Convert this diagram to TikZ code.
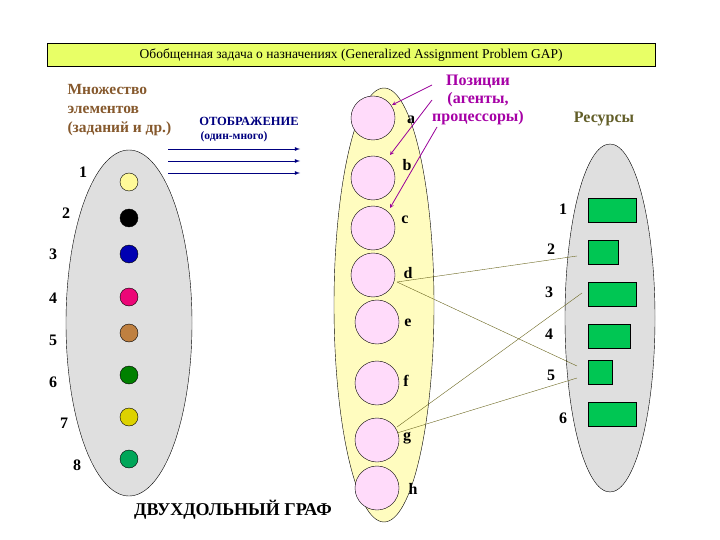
\documentclass[tikz,border=0pt]{standalone}
\usepackage{fontspec}
\setmainfont{Liberation Serif}
\begin{document}
\begin{tikzpicture}[x=1pt,y=-1pt,
  lbl/.style={font=\fontsize{16}{16}\selectfont\bfseries},
  dot/.style={circle,draw,minimum size=18pt,inner sep=0pt},
  posn/.style={circle,draw,fill=pink!40!magenta!20,minimum size=44pt,inner sep=0pt},
  res/.style={draw,fill=teal!50!green!90!cyan,anchor=north west,inner sep=0pt},
  edge/.style={draw=olive!70!black,thin},
  parr/.style={draw=violet!80!magenta,thick,-stealth},
  barr/.style={draw=blue!50!black,thick,-latex}]
\useasboundingbox (0,0) rectangle (720,540);
\fill[white] (0,0) rectangle (720,540);
\node[draw,fill=lime!60!yellow!60,minimum width=608pt,minimum height=23pt,anchor=north west,inner sep=0pt,font=\fontsize{13.5}{13.5}\selectfont] (title) at (47,43) {Обобщенная задача о назначениях (Generalized Assignment Problem GAP)};
% ellipses
\draw[fill=gray!25] (129,323) ellipse (63 and 173);
\draw[fill=yellow!25] (384,305) ellipse (50 and 217);
\draw[fill=gray!25] (610,318) ellipse (45 and 174);
% left dots
\foreach \n/\y/\c/\lx/\ly in {1/182/yellow!40/83/172,2/218/black/66/213,3/254/blue!70!black/53/254,4/297/magenta!80!red/53/298,5/333/brown/53/340,6/375/green!50!black/53/382,7/417/yellow!70!olive/64/423,8/459/teal!70!green/77/465}{
  \node[dot,fill=\c] (t\n) at (129,\y) {};
  \node[lbl] (tl\n) at (\lx,\ly) {\n};
}
% positions
\foreach \n/\y/\x/\lx/\ly in {a/118/373/411/120,b/178/373/407/165,c/228/373/405/220,d/275/373/408/273,e/322/377/408/323,f/383/377/406/381,g/440/377/407/438,h/488/377/413/489}{
  \node[posn] (p\n) at (\x,\y) {};
  \node[lbl] (pl\n) at (\lx,\ly) {\n};
}
% resources
\foreach \n/\y/\w/\ly/\lx in {1/198/48/209/563,2/240/30/249/551,3/282/48/292/549,4/324/42/334/549,5/360/24/375/551,6/402/48/418/563}{
  \node[res,minimum width=\w pt,minimum height=24pt] (r\n) at (588,\y) {};
  \node[lbl] (rl\n) at (\lx,\ly) {\n};
}
% connection points
\coordinate (d1) at (397,282); \coordinate (g1) at (397,427); \coordinate (g2) at (397,433);
\coordinate (q2) at (577,256); \coordinate (q5) at (577,366); \coordinate (q3) at (582,293); \coordinate (q5b) at (577,378);
\draw[edge] (d1) -- (q2); \draw[edge] (d1) -- (q5); \draw[edge] (g1) -- (q3); \draw[edge] (g2) -- (q5b);
% texts
\node[font=\fontsize{16}{18}\selectfont\bfseries,text=violet!70!magenta,align=center] (pt) at (478,100) {Позиции\\(агенты,\\процессоры)};
\node[lbl,text=olive!60!black] (rt) at (604,119) {Ресурсы};
\node[font=\fontsize{15.5}{19}\selectfont\bfseries,text=brown!70!black,align=left,anchor=west] (mt) at (64,110) {Множество\\элементов\\(заданий и др.)};
\node[font=\fontsize{12.5}{12.5}\selectfont\bfseries,text=blue!50!black] (ot) at (249,121) {ОТОБРАЖЕНИЕ};
\node[font=\fontsize{11.5}{11.5}\selectfont\bfseries,text=blue!50!black] (om) at (234,137) {(один-много)};
\node[font=\fontsize{18}{18}\selectfont\bfseries] (gt) at (233,510) {ДВУХДОЛЬНЫЙ ГРАФ};
% arrows
\foreach \y in {149,161,173}{
  \coordinate (as\y) at (168,\y); \coordinate (ae\y) at (300,\y);
  \draw[barr] (as\y) -- (ae\y);
}
\coordinate (s1) at (432,85); \coordinate (e1) at (392,105);
\coordinate (s2) at (432,100); \coordinate (e2) at (390,155);
\coordinate (s3) at (437,127); \coordinate (e3) at (390,208);
\draw[parr] (s1) -- (e1); \draw[parr] (s2) -- (e2); \draw[parr] (s3) -- (e3);
\end{tikzpicture}
\end{document}
